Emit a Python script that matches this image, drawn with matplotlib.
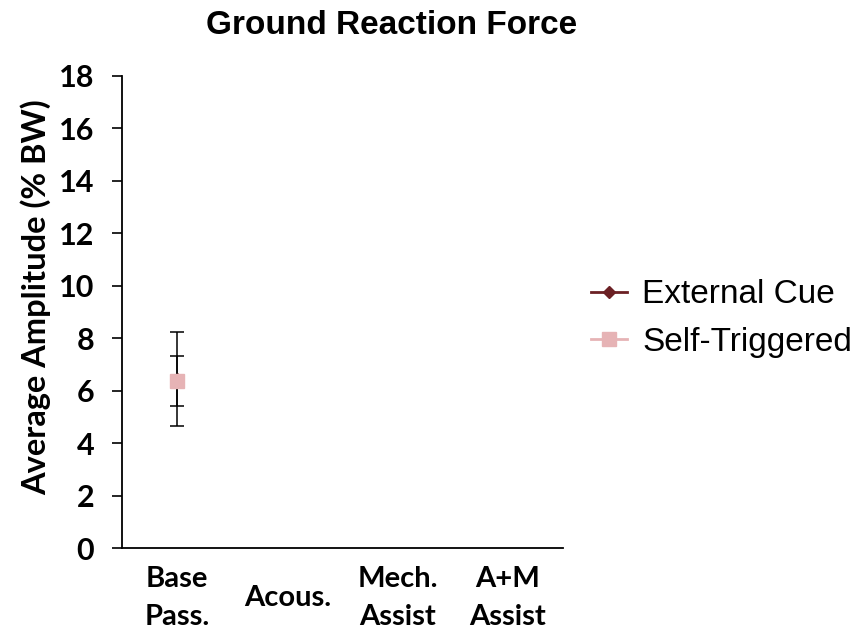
import numpy as np
import matplotlib
matplotlib.use("Agg")
import matplotlib.pyplot as plt
from matplotlib.lines import Line2D

# Conditions and mean ground reaction force amplitudes (% body weight)
categories = ["Base\nPass.", "Acous.", "Mech.\nAssist", "A+M\nAssist"]
external_cue = [6.45, np.nan, np.nan, np.nan]
external_cue_err = [1.79, np.nan, np.nan, np.nan]
self_triggered = [6.38, np.nan, np.nan, np.nan]
self_triggered_err = [0.95, np.nan, np.nan, np.nan]
y_ticks = [0, 2, 4, 6, 8, 10, 12, 14, 16, 18]

tick_font = "Lato"
text_font = "Liberation Sans"
ext_color = "#6B2024"
self_color = "#E6B3B5"

fig = plt.figure(figsize=(8.65, 6.31), dpi=100)
ax = fig.add_axes([0.141, 0.1315, 0.510, 0.7481])

x = np.arange(len(categories))

ax.errorbar(x, external_cue, yerr=external_cue_err, color=ext_color,
            marker="D", markersize=6, linewidth=1.5, ecolor="black",
            elinewidth=1.1, capsize=5, capthick=1.1, zorder=3)
ax.errorbar(x, self_triggered, yerr=self_triggered_err, color=self_color,
            marker="s", markersize=10, linewidth=1.5, ecolor="black",
            elinewidth=1.1, capsize=5, capthick=1.1, zorder=4)

ax.set_xlim(-0.5, len(categories) - 0.5)
ax.set_ylim(0, 18)
ax.set_yticks(y_ticks)
ax.set_yticklabels([str(v) for v in y_ticks], fontfamily=tick_font,
                   fontweight="bold", fontsize=22)
ax.set_xticks(x)
ax.set_xticklabels(categories, fontfamily=tick_font, fontweight="bold",
                   fontsize=21, linespacing=1.6)
for lab in ax.get_xticklabels():
    lab.set_verticalalignment("center")
ax.tick_params(axis="x", length=0, pad=36)
ax.tick_params(axis="y", direction="out", length=7, width=1.2, pad=13)

for side in ("top", "right"):
    ax.spines[side].set_visible(False)
for side in ("left", "bottom"):
    ax.spines[side].set_linewidth(1.3)

ax.set_ylabel("Average Amplitude (% BW)", fontfamily=tick_font,
              fontweight="bold", fontsize=23.5)
ax.yaxis.set_label_coords(-0.161, 0.532)

fig.text(0.453, 0.96, "Ground Reaction Force", ha="center", va="center",
         fontfamily=text_font, fontweight="bold", fontsize=24)

leg_handles = [
    Line2D([], [], color=ext_color, marker="D", markersize=6, linewidth=2),
    Line2D([], [], color=self_color, marker="s", markersize=10, linewidth=2),
]
fig.legend(leg_handles, ["External Cue", "Self-Triggered"],
           loc="center left", bbox_to_anchor=(0.648, 0.495),
           frameon=False, prop={"family": text_font, "size": 24},
           handlelength=1.1, handletextpad=0.45, labelspacing=0.5)

fig.savefig("out.png", dpi=100)
